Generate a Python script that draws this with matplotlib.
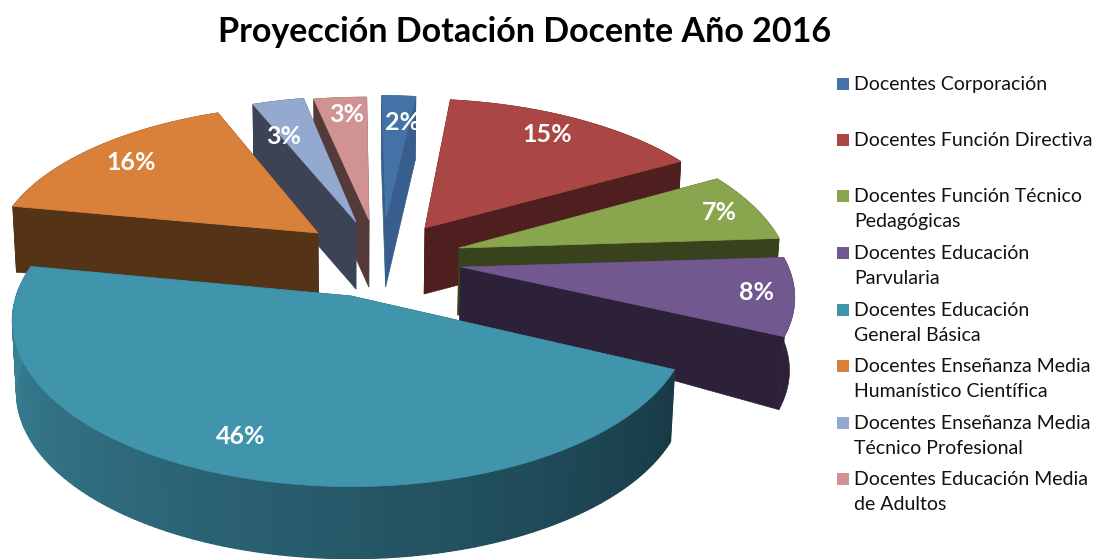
import numpy as np
import matplotlib
matplotlib.use("Agg")
import matplotlib.pyplot as plt
from matplotlib.patches import Polygon, Rectangle

# data, clockwise from 12 o'clock
categories = [
    "Docentes Corporación",
    "Docentes Función Directiva",
    "Docentes Función Técnico\nPedagógicas",
    "Docentes Educación\nParvularia",
    "Docentes Educación\nGeneral Básica",
    "Docentes Enseñanza Media\nHumanístico Científica",
    "Docentes Enseñanza Media\nTécnico Profesional",
    "Docentes Educación Media\nde Adultos",
]
values = [2, 15, 7, 8, 46, 16, 3, 3]

top_colors = ["#4472A6", "#AA4643", "#89A54E", "#71588F", "#4094AC", "#D9813A", "#93A9CF", "#D19392"]
side_colors = ["#375E8C", "#4F1F1F", "#38421C", "#2C2138", "#1F4A57", "#553317", "#3B4354", "#553A3A"]

# pixel position of each slice tip, extrusion depth at tip and rim, radius fit
apex_x = [386, 425, 459, 461, 351, 318, 356, 369]
apex_y = [218, 228, 248, 267, 296, 233, 222, 220]
tip_depth = [69, 66, 67, 54, 72, 60, 67, 67]
rim_depth = [64, 66, 66, 73, 72, 66, 67, 67]
fit_x = [0.97, 0.985, 0.985, 0.975, 0.97, 0.985, 0.98, 1.0]
fit_z = [1.0, 1.04, 1.04, 1.0, 1.0, 1.02, 1.02, 1.0]
draw_order = [0, 7, 6, 1, 2, 5, 3, 4]

label_x = [403, 547, 719, 757, 241, 131, 284, 347]
label_y = [123, 134, 213, 293, 436, 162, 136, 115]
legend_y = [83, 139, 195, 252, 309, 365, 422, 478]

# simple perspective camera for the pie
ORIGIN_X, ORIGIN_Y = 350, 296
SCALE_X, SCALE_Y = 345, 162
PERSP = 0.15
SHRINK = 0.012


def project(x, z, down=0.0):
    w = 1 + PERSP * z
    sx = ORIGIN_X + SCALE_X * x / (w + SHRINK * (np.asarray(down) > 0))
    return sx, ORIGIN_Y - SCALE_Y * z / w + down


def unproject(px, py):
    u = ORIGIN_Y - py
    z = u / (SCALE_Y - PERSP * u)
    return (px - ORIGIN_X) * (1 + PERSP * z) / SCALE_X, z


def slice_outline(i, start, end, n=60):
    x0, z0 = unproject(apex_x[i], apex_y[i])
    theta = np.radians(np.linspace(start, end, n))
    xs = x0 + fit_x[i] * np.sin(theta)
    zs = z0 + fit_z[i] * np.cos(theta)
    return x0, z0, xs, zs, np.degrees(theta)


def mix(c0, c1, t):
    return tuple(a + (b - a) * t for a, b in zip(c0, c1))


fig = plt.figure(figsize=(10.94, 5.59), dpi=100)
ax = fig.add_axes([0, 0, 1, 1])
ax.set_xlim(0, 1094)
ax.set_ylim(559, 0)
ax.axis("off")

ends = np.cumsum(values) * 3.6
starts = ends - np.array(values) * 3.6

for i in draw_order:
    x0, z0, xs, zs, thetas = slice_outline(i, starts[i], ends[i])
    tx, ty = project(np.r_[x0, xs], np.r_[z0, zs])
    downs = np.r_[tip_depth[i], np.full(len(xs), rim_depth[i])]
    bx, by = project(np.r_[x0, xs], np.r_[z0, zs], downs)

    # cut faces and outer wall
    for a in (1, len(xs)):
        ax.add_patch(Polygon(
            [(tx[0], ty[0]), (tx[a], ty[a]), (bx[a], by[a]), (bx[0], by[0])],
            fc=side_colors[i], ec=side_colors[i], lw=0.5,
        ))
    if values[i] == max(values):
        # shaded wall of the big slice, light on the left and dark on the right
        x0, z0, xs, zs, thetas = slice_outline(i, starts[i], ends[i], 170)
        tx2, ty2 = project(xs, zs)
        bx2, by2 = project(xs, zs, np.full(len(xs), rim_depth[i]))
        for k in range(len(xs) - 1):
            t = (thetas[k] - thetas[0]) / (thetas[-1] - thetas[0])
            col = mix((24 / 255, 58 / 255, 70 / 255), (60 / 255, 135 / 255, 156 / 255), t)
            ax.add_patch(Polygon(
                [(tx2[k], ty2[k]), (tx2[k + 1], ty2[k + 1]),
                 (bx2[k + 1], by2[k + 1]), (bx2[k], by2[k])],
                fc=col, ec=col, lw=1.0,
            ))
    else:
        ax.add_patch(Polygon(
            np.c_[np.r_[tx[1:], bx[1:][::-1]], np.r_[ty[1:], by[1:][::-1]]],
            fc=side_colors[i], ec=side_colors[i], lw=0.5,
        ))
    ax.add_patch(Polygon(np.c_[tx, ty], fc=top_colors[i], ec=top_colors[i], lw=0.5))

for i, v in enumerate(values):
    ax.text(label_x[i], label_y[i], f"{v}%", color="white", fontsize=18, family="Lato",
            fontweight="bold", ha="center", va="center")

ax.text(525, 32, "Proyección Dotación Docente Año 2016", fontsize=24.5, family="Lato",
        fontweight="bold", color="black", ha="center", va="center")

for i, name in enumerate(categories):
    ax.add_patch(Rectangle((837, legend_y[i] - 5), 12, 12, fc=top_colors[i], ec="none"))
    ax.text(854.5, legend_y[i] - 7, name, fontsize=14, family="Lato", color="#111111",
            ha="left", va="top", linespacing=1.6)

fig.savefig("out.png", dpi=100)
